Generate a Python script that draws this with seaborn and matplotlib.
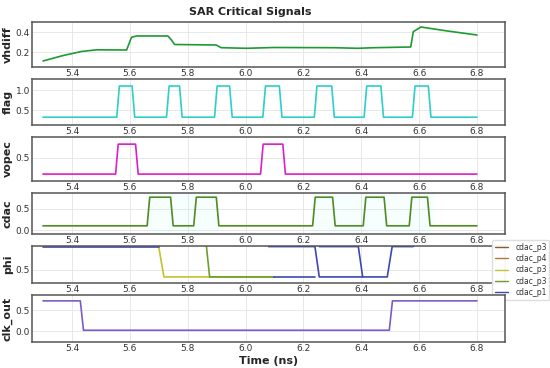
import numpy as np
import pandas as pd
import matplotlib
matplotlib.use("Agg")
import matplotlib.pyplot as plt
from matplotlib.lines import Line2D
import seaborn as sns

# time axis (ns)
t_start, t_end = 5.3, 6.8
x_ticks = [5.4, 5.6, 5.8, 6.0, 6.2, 6.4, 6.6, 6.8]
edge = 0.009  # rise / fall time of the digital signals

# vhdiff breakpoints
vhdiff_t = [5.30, 5.37, 5.433, 5.485, 5.589, 5.606, 5.623, 5.732, 5.744, 5.755,
            5.899, 5.916, 6.002, 6.10, 6.307, 6.387, 6.445, 6.571, 6.58, 6.606,
            6.698, 6.80]
vhdiff_v = [0.11, 0.165, 0.205, 0.222, 0.22, 0.347, 0.36, 0.36, 0.32, 0.275,
            0.27, 0.243, 0.237, 0.245, 0.243, 0.237, 0.243, 0.25, 0.403, 0.45,
            0.41, 0.37]

# pulse trains: (rise, fall) times
flag_pulses = [(5.555, 5.608), (5.727, 5.772), (5.893, 5.945), (6.060, 6.117),
               (6.238, 6.298), (6.410, 6.468), (6.577, 6.632)]
flag_low, flag_high = 0.32, 1.10

vopec_pulses = [(5.551, 5.620), (6.052, 6.129)]
vopec_low, vopec_high = 0.15, 0.80

cdac_pulses = [(5.660, 5.741), (5.821, 5.899), (6.232, 6.301), (6.407, 6.479),
               (6.566, 6.629)]
cdac_low, cdac_high = 0.10, 0.78
cdac_bursts = [(5.66, 5.91), (6.23, 6.65)]

# phi: segments per signal (key, segment id, times, values)
phi_keys = ["p3a", "p4", "p3b", "p3c", "p1"]
phi_labels = ["cdac_p3", "cdac_p4", "cdac_p3", "cdac_p3", "cdac_p1"]
phi_colors = ["#8c5a2b", "#b07a3a", "#c4c22c", "#6e9e2e", "#3c48b4"]
phi_segments = [
    ("p3a", 0, [5.30, 6.80], [1.05, 1.05]),
    ("p4", 0, [5.30, 6.80], [1.05, 1.05]),
    ("p3b", 0, [5.700, 5.718, 6.10], [1.0, 0.35, 0.35]),
    ("p3c", 0, [5.865, 5.876, 6.10], [1.0, 0.35, 0.35]),
    ("p1", 0, [5.30, 5.70], [1.0, 1.0]),
    ("p1", 1, [6.08, 6.240, 6.255, 6.490, 6.507, 6.58], [1.0, 1.0, 0.35, 0.35, 1.0, 1.0]),
    ("p1", 2, [6.10, 6.240], [0.35, 0.35]),
    ("p1", 3, [6.255, 6.390, 6.405], [1.0, 1.0, 0.35]),
]

# clk_out breakpoints
clk_t = [5.30, 5.429, 5.440, 6.497, 6.508, 6.80]
clk_v = [0.72, 0.72, 0.02, 0.02, 0.72, 0.72]


def pulse_train(pulses, low, high):
    t, v = [t_start], [low]
    for r, f in pulses:
        t += [r, r + edge, f, f + edge]
        v += [low, high, high, low]
    t.append(t_end)
    v.append(low)
    return pd.DataFrame({"t": t, "v": v})


sns.set_style("whitegrid", {"axes.edgecolor": "#555555", "grid.color": "#e4e4e4"})
plt.rcParams["font.family"] = ["DejaVu Sans"]

fig = plt.figure(figsize=(5.5, 3.68), dpi=100)
W, H = 550, 368
left, right = 32, 505
# (top, bottom) pixel rows of each panel
rows = [(22, 67), (79, 125), (137, 181), (193, 234), (246, 283), (295, 342)]
axes = []
for top, bot in rows:
    ax = fig.add_axes([left / W, 1 - bot / H, (right - left) / W, (bot - top) / H])
    axes.append(ax)

lw = 1.2
sns.lineplot(data=pd.DataFrame({"t": vhdiff_t, "v": vhdiff_v}), x="t", y="v",
             ax=axes[0], color="#1e9a32", lw=lw)
sns.lineplot(data=pulse_train(flag_pulses, flag_low, flag_high), x="t", y="v",
             ax=axes[1], color="#2ccfc9", lw=lw)
sns.lineplot(data=pulse_train(vopec_pulses, vopec_low, vopec_high), x="t", y="v",
             ax=axes[2], color="#e01ec8", lw=lw)
cdac_df = pulse_train(cdac_pulses, cdac_low, cdac_high)
for a, b in cdac_bursts:
    axes[3].axvspan(a, b, color="#66ffdd", alpha=0.06, lw=0)
sns.lineplot(data=cdac_df, x="t", y="v", ax=axes[3], color="#4f8a22", lw=lw)

rows_phi = []
for key, seg, ts, vs in phi_segments:
    for t, v in zip(ts, vs):
        rows_phi.append({"signal": key, "seg": seg, "t": t, "v": v})
phi_df = pd.DataFrame(rows_phi)
sns.lineplot(data=phi_df, x="t", y="v", hue="signal", units="seg", estimator=None,
             hue_order=phi_keys, palette=dict(zip(phi_keys, phi_colors)),
             ax=axes[4], lw=lw, legend=False)

sns.lineplot(data=pd.DataFrame({"t": clk_t, "v": clk_v}), x="t", y="v",
             ax=axes[5], color="#7b5cc6", lw=lw)

names = ["vhdiff", "flag", "vopec", "cdac", "phi", "clk_out"]
ylims = [(0.05, 0.50), (0.125, 1.275), (0.0, 0.955), (-0.095, 0.88), (0.22, 1.012), (-0.26, 0.86)]
yticks = [[0.2, 0.4], [0.5, 1.0], [0.5], [0.0, 0.5], [0.5], [0.0, 0.5]]
for ax, name, yl, yt in zip(axes, names, ylims, yticks):
    ax.set_xlim(5.262, 6.897)
    ax.set_ylim(*yl)
    ax.set_xticks(x_ticks)
    ax.set_yticks(yt)
    ax.set_xlabel("")
    ax.set_ylabel(name, fontsize=8, fontweight="bold", labelpad=2)
    ax.tick_params(labelsize=6.5, colors="#333333", pad=1.5, length=0)
    ax.grid(True, lw=0.6)
    for s in ax.spines.values():
        s.set_linewidth(1.1)

axes[5].set_xlabel("Time (ns)", fontsize=8, fontweight="bold", labelpad=2)

handles = [Line2D([0], [0], color=c, lw=1.0) for c in phi_colors]
leg = axes[4].legend(handles, phi_labels, loc="upper left", fontsize=5.5,
                     bbox_to_anchor=(492 / W, 1 - 240 / H), bbox_transform=fig.transFigure,
                     frameon=True, edgecolor="#dddddd", framealpha=0.95,
                     handlelength=1.8, borderpad=0.35, labelspacing=0.3,
                     handletextpad=0.9, borderaxespad=0)
for txt in leg.get_texts():
    txt.set_color("#333333")

fig.text(250 / W, 1 - 12 / H, "SAR Critical Signals", ha="center", va="center",
         fontsize=8, fontweight="bold")

fig.savefig("out.png", dpi=100)
